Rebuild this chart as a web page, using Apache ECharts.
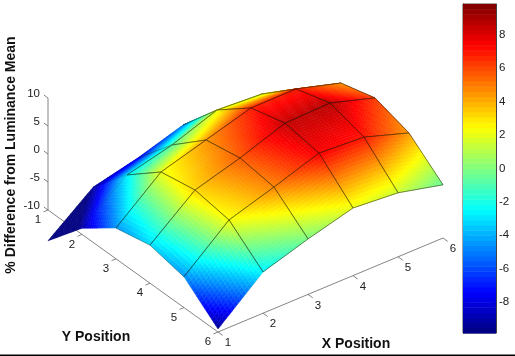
<!DOCTYPE html>
<html>
<head>
<meta charset="utf-8">
<style>
  html, body { margin: 0; padding: 0; background: #fff; }
  #chart { width: 515px; height: 356px; }
</style>
</head>
<body>
<div id="chart"></div>
<script src="https://cdn.jsdelivr.net/npm/echarts@6/dist/echarts.min.js"></script>
<script>
// chart values
const xPositions = [1, 2, 3, 4, 5, 6];
const yPositions = [1, 2, 3, 4, 5, 6];
const zTicks = [-10, -5, 0, 5, 10];
const barTicks = [-8, -6, -4, -2, 0, 2, 4, 6, 8];

// one row per Y position, one column per X position
const zRow1 = [-15.5, -9.3, -7.4, -4.9, -5.5, -6.5];
const zRow2 = [-8.9, -2.75, -0.75, 2.14, 1.64, -1];
const zRow3 = [-4.5, 2.14, 4.5, 6.86, 6.9, 4.6];
const zRow4 = [-3.2, 3.27, 5.64, 8.5, 8.75, 6.3];
const zRow5 = [-4.5, 2.29, 4.8, 7.5, 7, 4.4];
const zRow6 = [-9.46, -2.64, -0.1, 2.07, 1.43, -0.5];
const zValues = [zRow1, zRow2, zRow3, zRow4, zRow5, zRow6];

const colorMin = -9.85;
const colorMax = 9.85;
const colorSteps = 64;
const cellSteps = 16;

// fixed view of the 3d box, result is in the hidden pixel axes of grid 0
function project(x, y, z) {
  return [
    48 + 45 * (x - 1) + 34 * (y - 1),
    210 - 18.8 * (x - 1) + 24.4 * (y - 1) - 5.6 * (z + 10)
  ];
}

function jet(v) {
  let t = (v - colorMin) / (colorMax - colorMin);
  t = Math.min(1, Math.max(0, t));
  const part = function (c) {
    return Math.round(255 * Math.min(1, Math.max(0, 1.5 - Math.abs(4 * t - c))));
  };
  return 'rgb(' + part(3) + ',' + part(2) + ',' + part(1) + ')';
}

function zAt(i, j, s, t) {
  return (1 - s) * (1 - t) * zValues[j][i] + s * (1 - t) * zValues[j][i + 1] +
    (1 - s) * t * zValues[j + 1][i] + s * t * zValues[j + 1][i + 1];
}

// far cells first so the hump hides what is behind it
const cells = [];
for (let j = 0; j < yPositions.length - 1; j++) {
  for (let i = 0; i < xPositions.length - 1; i++) {
    cells.push([i, j]);
  }
}
cells.sort(function (a, b) {
  return (b[0] - b[1]) - (a[0] - a[1]);
});

function renderCell(params, api) {
  const i = api.value(0);
  const j = api.value(1);
  const point = function (s, t) {
    return api.coord(project(xPositions[i] + s, yPositions[j] + t, zAt(i, j, s, t)));
  };
  const children = [];
  const n = cellSteps;
  for (let b = n - 1; b >= 0; b--) {
    for (let a = 0; a < n; a++) {
      const s0 = a / n, s1 = (a + 1) / n, t0 = b / n, t1 = (b + 1) / n;
      const color = jet(zAt(i, j, (s0 + s1) / 2, (t0 + t1) / 2));
      children.push({
        type: 'polygon',
        shape: { points: [point(s0, t0), point(s1, t0), point(s1, t1), point(s0, t1)] },
        style: { fill: color, stroke: color, lineWidth: 0.5 }
      });
    }
  }
  // mesh, it hardly shows on the dark blue part
  const corners = [[0, 0], [1, 0], [1, 1], [0, 1]];
  corners.forEach(function (c, k) {
    const d = corners[(k + 1) % 4];
    const p = point(c[0], c[1]), q = point(d[0], d[1]);
    const mid = zAt(i, j, (c[0] + d[0]) / 2, (c[1] + d[1]) / 2);
    const alpha = Math.min(0.75, Math.max(0.08, (mid + 7) / 7));
    children.push({
      type: 'line',
      shape: { x1: p[0], y1: p[1], x2: q[0], y2: q[1] },
      style: { stroke: 'rgba(20,20,0,' + alpha + ')', lineWidth: 0.7 }
    });
  });
  return { type: 'group', children: children };
}

const axisColor = '#666';
const tickFont = '11.5px "Liberation Sans", Arial, sans-serif';

function segment(api, from, to) {
  const a = api.coord(from), b = api.coord(to);
  return {
    type: 'line',
    shape: { x1: a[0], y1: a[1], x2: b[0], y2: b[1] },
    style: { stroke: axisColor, lineWidth: 0.8 }
  };
}

function label(api, at, dx, dy, text, align) {
  const p = api.coord(at);
  return {
    type: 'text',
    style: {
      x: p[0] + dx, y: p[1] + dy, text: String(text), font: tickFont, fill: '#222',
      textAlign: align || 'center', textVerticalAlign: 'middle'
    }
  };
}

// the three box axes, with ticks and labels
function renderBox(params, api) {
  const kids = [];
  const floor = zTicks[0];
  const xEnd = xPositions[xPositions.length - 1];
  const yEnd = yPositions[yPositions.length - 1];
  kids.push(segment(api, project(1, 1, floor), project(1, yEnd, floor)));
  kids.push(segment(api, project(1, yEnd, floor), project(xEnd, yEnd, floor)));
  kids.push(segment(api, project(1, 1, floor), project(1, 1, zTicks[zTicks.length - 1])));
  xPositions.forEach(function (x) {
    kids.push(segment(api, project(x, yEnd, floor), project(x, yEnd + 0.14, floor)));
    kids.push(label(api, project(x, yEnd, floor), 10, 11, x));
  });
  yPositions.forEach(function (y) {
    kids.push(segment(api, project(1, y, floor), project(0.9, y, floor)));
    kids.push(label(api, project(1, y, floor), -10, 10, y));
  });
  zTicks.forEach(function (z) {
    kids.push(segment(api, project(1, 1, z), project(1, 0.88, z)));
    kids.push(label(api, project(1, 1, z), -8, -4, z, 'right'));
  });
  return { type: 'group', children: kids };
}

const barLevels = [];
for (let k = 0; k < colorSteps; k++) {
  barLevels.push([k]);
}

function renderBarStep(params, api) {
  const k = api.value(0);
  const size = (colorMax - colorMin) / colorSteps;
  const low = colorMin + k * size;
  const a = api.coord([0, low]);
  const b = api.coord([1, low + size]);
  return {
    type: 'rect',
    shape: { x: a[0], y: b[1], width: b[0] - a[0], height: a[1] - b[1] + 0.5 },
    style: { fill: jet(low + size / 2) }
  };
}

const barAxis = function (position, showLabel) {
  return {
    type: 'value', gridIndex: 1, position: position, min: colorMin, max: colorMax,
    splitLine: { show: false },
    axisLine: { show: true, onZero: false, lineStyle: { color: '#444', width: 1 } },
    axisTick: { show: true, inside: true, length: 4, customValues: barTicks, lineStyle: { color: '#444', width: 1 } },
    axisLabel: {
      show: showLabel, customValues: barTicks, margin: 3, color: '#222',
      fontSize: 11.5, fontFamily: '"Liberation Sans", Arial, sans-serif'
    }
  };
};

const chart = echarts.init(document.getElementById('chart'), null, { renderer: 'canvas' });
chart.setOption({
  animation: false,
  backgroundColor: '#fff',
  grid: [
    { left: 0, top: 0, width: 515, height: 356 },
    { left: 463, top: 4, width: 33, height: 329, show: true, borderColor: '#444', borderWidth: 1 }
  ],
  xAxis: [
    { type: 'value', gridIndex: 0, min: 0, max: 515, show: false },
    { type: 'value', gridIndex: 1, min: 0, max: 1, show: false }
  ],
  yAxis: [
    { type: 'value', gridIndex: 0, min: 0, max: 356, inverse: true, show: false },
    barAxis('left', false),
    barAxis('right', true)
  ],
  series: [
    {
      type: 'custom', xAxisIndex: 0, yAxisIndex: 0, silent: true, clip: false,
      data: [[0, 0]], renderItem: renderBox
    },
    {
      type: 'custom', xAxisIndex: 0, yAxisIndex: 0, silent: true, clip: false,
      data: cells, renderItem: renderCell
    },
    {
      type: 'custom', xAxisIndex: 1, yAxisIndex: 1, silent: true,
      data: barLevels, renderItem: renderBarStep
    }
  ],
  graphic: [
    {
      type: 'text', x: 11, y: 155, rotation: Math.PI / 2, originX: 0, originY: 0,
      style: {
        text: '% Difference from Luminance Mean', fill: '#111', textAlign: 'center', textVerticalAlign: 'middle',
        font: 'bold 14px "Liberation Sans", Arial, sans-serif'
      }
    },
    {
      type: 'text', x: 96, y: 337,
      style: {
        text: 'Y Position', fill: '#111', textAlign: 'center', textVerticalAlign: 'middle',
        font: 'bold 14px "Liberation Sans", Arial, sans-serif'
      }
    },
    {
      type: 'text', x: 356, y: 344,
      style: {
        text: 'X Position', fill: '#111', textAlign: 'center', textVerticalAlign: 'middle',
        font: 'bold 14px "Liberation Sans", Arial, sans-serif'
      }
    },
    { type: 'rect', shape: { x: 0, y: 354.6, width: 515, height: 1.4 }, style: { fill: '#000' } }
  ]
});
</script>
</body>
</html>
